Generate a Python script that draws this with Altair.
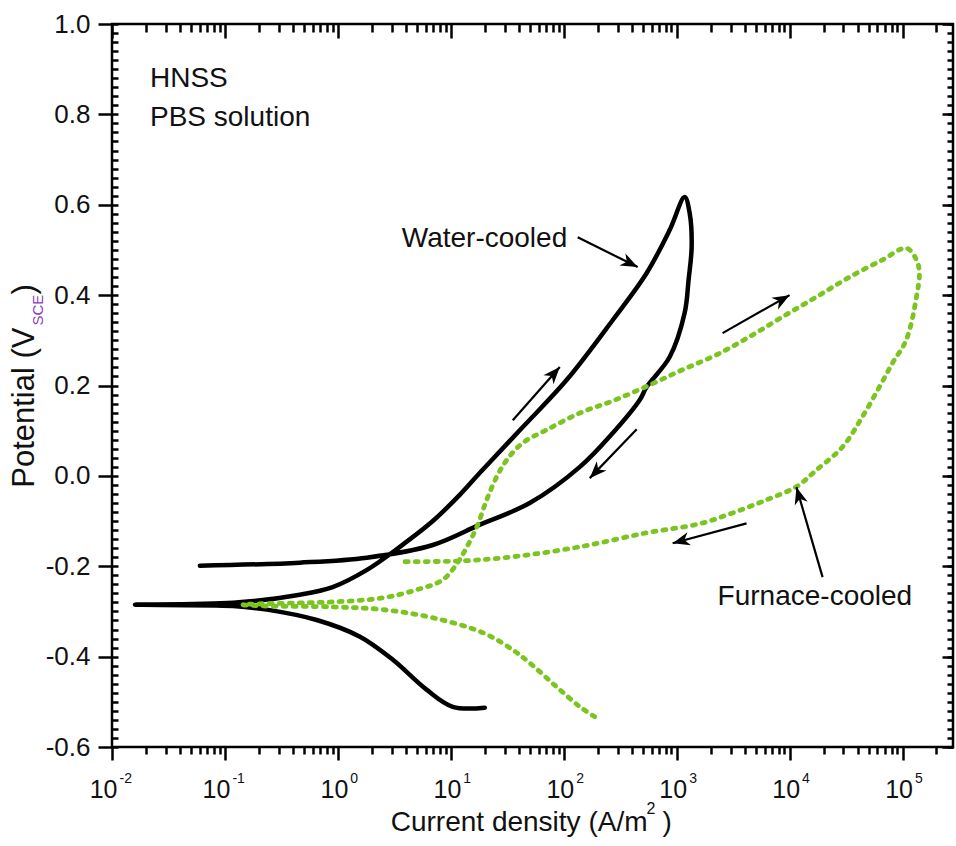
import math
import altair as alt
import pandas as pd

# ---------------- data ----------------
water_x = [20.0, 10.4, 6.1, 3.07, 1.57, 0.65, 0.235, 0.118, 0.016, 0.118,
           0.46, 0.90, 1.81, 3.54, 6.93, 12.0, 18.1, 43.4, 106, 272, 543,
           867, 1178, 1303, 1358, 1276, 1178, 867, 543, 471, 272,
           139, 50, 18.1, 6.93, 1.81, 0.46, 0.060]
water_v = [-0.513, -0.511, -0.473, -0.407, -0.356, -0.319, -0.296, -0.288, -0.285, -0.281,
           -0.263, -0.246, -0.208, -0.157, -0.100, -0.042, 0.007, 0.108, 0.212, 0.345, 0.449,
           0.544, 0.617, 0.582, 0.507, 0.434, 0.361, 0.263, 0.197, 0.168, 0.095,
           0.020, -0.060, -0.108, -0.153, -0.181, -0.192, -0.199]

furnace_x = [188, 139, 86.7, 50, 35.4, 19.2, 6.93, 2.50, 0.90, 0.235,
             0.144, 0.46, 0.90, 2.50, 5.0, 8.5, 11.5, 13.9, 17.0, 20.8,
             25.5, 31.3, 43.4, 70.8, 139, 272, 577, 1130, 2260, 4430,
             8670, 17300, 34000, 66500, 1.08e5, 1.33e5, 1.41e5, 1.33e5, 1.08e5, 81700,
             62500, 44200, 29400, 17300, 11500, 6250, 3130, 1600, 543, 139,
             35.4, 12.8, 3.68]
furnace_v = [-0.533, -0.511, -0.467, -0.414, -0.385, -0.347, -0.314, -0.296, -0.290, -0.288,
             -0.285, -0.281, -0.279, -0.270, -0.252, -0.230, -0.192, -0.157, -0.113, -0.053,
             -0.002, 0.035, 0.073, 0.102, 0.139, 0.166, 0.201, 0.235, 0.268, 0.308,
             0.352, 0.396, 0.440, 0.478, 0.504, 0.478, 0.449, 0.396, 0.301, 0.250,
             0.197, 0.131, 0.064, 0.013, -0.024, -0.053, -0.082, -0.106, -0.126, -0.157,
             -0.179, -0.188, -0.190]

arrow_tail_x = [133, 35.4, 443, 2550, 4160, 19600]
arrow_tail_v = [0.528, 0.123, 0.103, 0.316, -0.105, -0.224]
arrow_head_x = [452, 92.3, 170, 10000, 922, 11500]
arrow_head_v = [0.462, 0.241, -0.005, 0.400, -0.149, -0.025]

label_text = ["HNSS", "PBS solution", "Water-cooled", "Furnace-cooled"]
label_x = [0.0217, 0.0217, 3.68, 2306]
label_v = [0.861, 0.774, 0.506, -0.286]

x_major = [1e-2, 1e-1, 1e0, 1e1, 1e2, 1e3, 1e4, 1e5]
x_neg = [1e-2, 1e-1]
x_pos = [1e0, 1e1, 1e2, 1e3, 1e4, 1e5]
y_major = [-0.6, -0.4, -0.2, 0.0, 0.2, 0.4, 0.6, 0.8, 1.0]

X_DOM = [0.01, 2.8e5]
Y_DOM = [-0.6, 1.0]
x_minor = [m * 10.0 ** e for e in range(-2, 6) for m in range(2, 10) if m * 10.0 ** e <= X_DOM[1]]
y_minor = [round(-0.6 + 0.02 * i, 2) for i in range(81)]

W, H = 841, 723
FONT = "Liberation Sans"
INK = "#111111"
GREEN = "#7CC520"

xs = alt.Scale(type="log", domain=X_DOM, nice=False)
ys = alt.Scale(domain=Y_DOM, nice=False, zero=False)

# ---------------- tables ----------------
df_w = pd.DataFrame({"x": water_x, "v": water_v, "i": range(len(water_x))})
df_f = pd.DataFrame({"x": furnace_x, "v": furnace_v, "i": range(len(furnace_x))})

rows = []
heads = []
for k in range(len(arrow_tail_x)):
    rows.append({"id": k, "i": 0, "x": arrow_tail_x[k], "v": arrow_tail_v[k]})
    rows.append({"id": k, "i": 1, "x": arrow_head_x[k], "v": arrow_head_v[k]})
    dx = 113.0 * (math.log10(arrow_head_x[k]) - math.log10(arrow_tail_x[k]))
    dy = -(H / (Y_DOM[1] - Y_DOM[0])) * (arrow_head_v[k] - arrow_tail_v[k])
    ang = math.degrees(math.atan2(dx, -dy)) % 360
    heads.append({"x": arrow_head_x[k], "v": arrow_head_v[k], "ang": ang})
df_arrow = pd.DataFrame(rows)
df_head = pd.DataFrame(heads)
df_lab = pd.DataFrame({"t": label_text, "x": label_x, "v": label_v})
dummy = pd.DataFrame({"x": X_DOM, "v": Y_DOM})

X = lambda: alt.X("x:Q", scale=xs, axis=None)
Y = lambda: alt.Y("v:Q", scale=ys, axis=None)

water = alt.Chart(df_w).mark_line(color="#000", strokeWidth=4.5, interpolate="catmull-rom",
                                  strokeJoin="round", strokeCap="round").encode(
    x=X(), y=Y(), order=alt.Order("i:Q"))
furnace = alt.Chart(df_f).mark_line(color=GREEN, strokeWidth=4.8, interpolate="catmull-rom",
                                    strokeDash=[3, 7], strokeCap="round").encode(
    x=X(), y=Y(), order=alt.Order("i:Q"))
shafts = alt.Chart(df_arrow).mark_line(color="#000", strokeWidth=2.2).encode(
    x=X(), y=Y(), detail="id:N", order=alt.Order("i:Q"))
HEAD = "M0,0L0.75,1.9L0,1.35L-0.75,1.9Z"
arrowheads = alt.Chart(df_head).mark_point(shape=HEAD, filled=True, size=324, color="#000",
                                           opacity=1, strokeWidth=0).encode(
    x=X(), y=Y(), angle=alt.Angle("ang:Q", scale=None))
texts = alt.Chart(df_lab).mark_text(font=FONT, fontSize=28, align="left",
                                    baseline="alphabetic", color=INK).encode(
    x=X(), y=Y(), text="t:N")

# ---------------- axes ----------------
def ax(orient, **kw):
    base = dict(orient=orient, domain=False, grid=False, labels=False, ticks=False,
                tickColor="#000", tickWidth=2.5, title=None, labelFont=FONT, titleFont=FONT,
                labelColor=INK, titleColor=INK, titleFontWeight="normal",
                labelFlush=False, labelOverlap=False, labelBound=False)
    base.update(kw)
    return alt.Axis(**base)

x_axes = [
    ax("bottom", values=x_major, ticks=True, tickSize=13,
       title="Current density (A/m", titleFontSize=28, titleAlign="right", titleAngle=0,
       titleBaseline="alphabetic", titleX=535, titleY=83),
    ax("bottom", values=x_minor, ticks=True, tickSize=7,
       title="2", titleFontSize=16, titleAlign="left", titleAngle=0,
       titleBaseline="alphabetic", titleX=534, titleY=66),
    ax("top", values=x_major, ticks=True, tickSize=14, offset=-14),
    ax("top", values=x_minor, ticks=True, tickSize=8, offset=-8),
    ax("bottom", values=x_neg, labels=True, tickSize=0, labelExpr="'10'", labelAlign="right",
       labelBaseline="alphabetic", labelOffset=5, labelPadding=50, labelFontSize=25,
       title=")", titleFontSize=28, titleAlign="left", titleAngle=0,
       titleBaseline="alphabetic", titleX=550, titleY=83),
    ax("bottom", values=x_neg, labels=True, tickSize=0,
       labelExpr="'' + round(log(datum.value) / LN10)", labelAlign="left",
       labelBaseline="alphabetic", labelOffset=7, labelPadding=35, labelFontSize=14),
    ax("bottom", values=x_pos, labels=True, tickSize=0, labelExpr="'10'", labelAlign="right",
       labelBaseline="alphabetic", labelOffset=10, labelPadding=50, labelFontSize=25),
    ax("bottom", values=x_pos, labels=True, tickSize=0,
       labelExpr="'' + round(log(datum.value) / LN10)", labelAlign="left",
       labelBaseline="alphabetic", labelOffset=12, labelPadding=35, labelFontSize=14),
]
y_axes = [
    ax("left", values=y_major, ticks=True, tickSize=14, labels=True,
       labelExpr="(datum.value < -0.001 ? '-' : '') + format(abs(datum.value), '.1f')",
       labelFontSize=26, labelPadding=8, labelAlign="right", labelBaseline="middle",
       title="Potential (V", titleFontSize=31, titleAngle=270, titleAlign="right",
       titleBaseline="alphabetic", titleX=-79, titleY=303),
    ax("left", values=y_minor, ticks=True, tickSize=6, offset=-6),
    ax("right", values=y_major, ticks=True, tickSize=11, offset=-11),
    ax("right", values=y_minor, ticks=True, tickSize=6, offset=-6),
    ax("left", title="SCE", titleFontSize=15, titleColor="#8a3fb5", titleAngle=270,
       titleAlign="left", titleBaseline="alphabetic", titleX=-70, titleY=301),
    ax("left", title=")", titleFontSize=31, titleAngle=270,
       titleAlign="left", titleBaseline="alphabetic", titleX=-79, titleY=270),
]

axis_layers = []
for k in range(max(len(x_axes), len(y_axes))):
    xa = x_axes[k] if k < len(x_axes) else None
    ya = y_axes[k] if k < len(y_axes) else None
    axis_layers.append(
        alt.Chart(dummy).mark_point(opacity=0).encode(
            x=alt.X("x:Q", scale=xs, axis=xa),
            y=alt.Y("v:Q", scale=ys, axis=ya),
        )
    )

chart = alt.layer(*axis_layers, water, furnace, shafts, arrowheads, texts).resolve_axis(
    x="independent", y="independent"
).properties(
    width=W, height=H,
    padding={"left": 112, "top": 24, "right": 3, "bottom": 99},
    autosize=alt.AutoSizeParams(type="none"),
    background="#ffffff",
).configure_view(stroke="#000", strokeWidth=2.5)

chart.save("out.html", embed_options={"renderer": "svg", "actions": False})
